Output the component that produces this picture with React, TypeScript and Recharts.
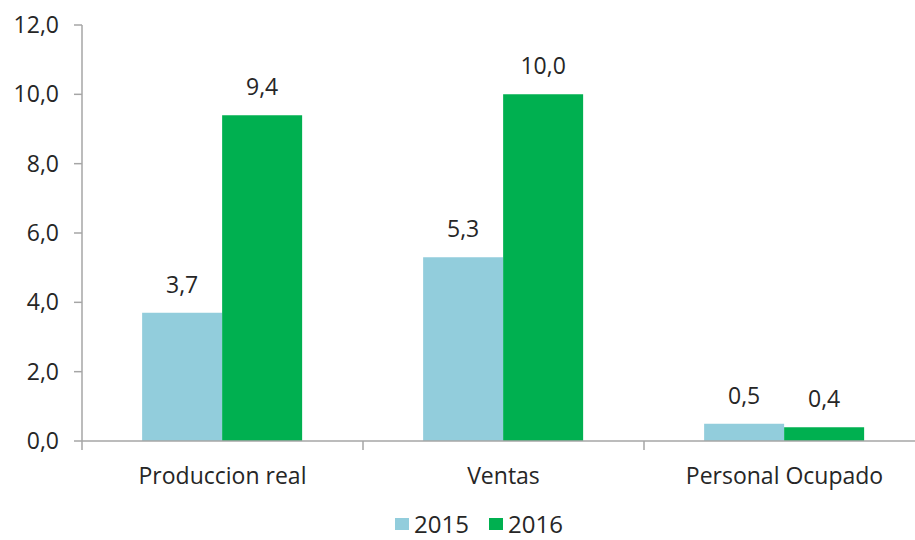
import React from 'react';
import { BarChart, Bar, XAxis, YAxis, Legend, LabelList } from 'recharts';

const categories = ['Produccion real', 'Ventas', 'Personal Ocupado'];
const values2015 = [3.7, 5.3, 0.5];
const values2016 = [9.4, 10.0, 0.4];
const yTicks = [0, 2, 4, 6, 8, 10, 12];

const data = categories.map((c, i) => ({ name: c, y2015: values2015[i], y2016: values2016[i] }));

const FONT = '"Open Sans", "Noto Sans", sans-serif';
const TEXT = '#262626';
const AXIS = '#a6a6a6';
const C2015 = '#92CDDC';
const C2016 = '#00B050';

const CHART_W = 915;
const CHART_H = 540;
const MARGIN = { top: 25, right: -10, left: 0, bottom: 0 };
const Y_W = 82;
const BAND = (CHART_W - MARGIN.left - MARGIN.right - Y_W) / categories.length;

const fmt = (v: number) => v.toFixed(1).replace('.', ',');

const XTick = (props: any) => {
  const { x, y, payload } = props;
  const bx = x - BAND / 2;
  return (
    <g>
      <line x1={bx} y1={y - 8} x2={bx} y2={y + 1} stroke={AXIS} strokeWidth={1.5} />
      <text x={x} y={y + 35} textAnchor="middle" fill={TEXT} fontSize={23} fontFamily={FONT}>
        {payload.value}
      </text>
    </g>
  );
};

const LegendContent = () => (
  <div style={{ display: 'flex', justifyContent: 'center', gap: 20, fontFamily: FONT, fontSize: 24, color: TEXT, marginLeft: 43, height: 33 }}>
    {[{ c: C2015, t: '2015' }, { c: C2016, t: '2016' }].map((e) => (
      <div key={e.t} style={{ display: 'flex', alignItems: 'center', gap: 5 }}>
        <span style={{ display: 'inline-block', width: 14, height: 12, background: e.c }} />
        <span>{e.t}</span>
      </div>
    ))}
  </div>
);

const labelStyle = { fill: TEXT, fontSize: 23, fontFamily: FONT };

export default function App() {
  return (
    <div style={{ position: 'absolute', left: 0, top: 0, width: 915, height: 540, overflow: 'hidden', background: '#fff' }}>
      <BarChart width={CHART_W} height={CHART_H} data={data} margin={MARGIN} barGap={0} barCategoryGap="21.4%">
        <XAxis
          dataKey="name"
          tickLine={false}
          axisLine={{ stroke: AXIS, strokeWidth: 1.5 }}
          tick={<XTick />}
          height={66}
          interval={0}
        />
        <YAxis
          width={Y_W}
          domain={[0, 12]}
          ticks={yTicks}
          tickFormatter={fmt}
          axisLine={{ stroke: AXIS, strokeWidth: 1.5 }}
          tickLine={{ stroke: AXIS, strokeWidth: 1.5 }}
          tickSize={8}
          tickMargin={15}
          tick={{ fill: TEXT, fontSize: 23, fontFamily: FONT }}
        />
        <Legend verticalAlign="bottom" height={33} wrapperStyle={{ left: 0, width: CHART_W }} content={<LegendContent />} />
        <Bar dataKey="y2015" fill={C2015} isAnimationActive={false}>
          <LabelList dataKey="y2015" position="top" offset={20} formatter={(v: any) => fmt(Number(v))} style={labelStyle} />
        </Bar>
        <Bar dataKey="y2016" fill={C2016} isAnimationActive={false}>
          <LabelList dataKey="y2016" position="top" offset={20} formatter={(v: any) => fmt(Number(v))} style={labelStyle} />
        </Bar>
      </BarChart>
    </div>
  );
}
